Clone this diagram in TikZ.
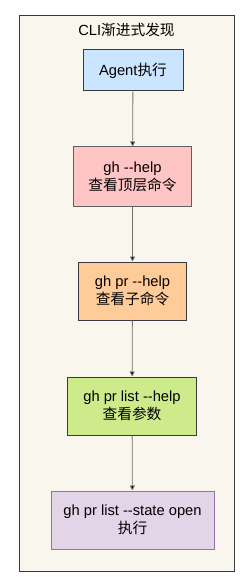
\documentclass[tikz,border=0pt]{standalone}
\usepackage{fontspec}
\setmainfont{Liberation Sans}[Ligatures=TeXOff]
\newfontfamily\cjk{Noto Sans CJK SC}
\usetikzlibrary{arrows.meta}
\definecolor{framefill}{HTML}{F9F7ED}
\definecolor{framedraw}{HTML}{36393D}
\definecolor{bluefill}{HTML}{CCE5FF}
\definecolor{pinkfill}{HTML}{FFC4C4}
\definecolor{orangefill}{HTML}{FFCC99}
\definecolor{greenfill}{HTML}{CDEB8B}
\definecolor{purplefill}{HTML}{E1D5E7}
\definecolor{purpledraw}{HTML}{9673A6}
\definecolor{edgecol}{HTML}{707070}
\tikzset{
  stepbox/.style={draw=framedraw, line width=1pt, align=center, font=\fontsize{14.7}{18}\selectfont, inner sep=0pt},
  flow/.style={draw=edgecol, line width=0.8pt, -{Triangle[length=5pt,width=5pt,fill=black]}}
}
\begin{document}
\begin{tikzpicture}[x=1pt,y=-1pt]
\useasboundingbox (0,0) rectangle (250,585);
\node[draw=framedraw, fill=framefill, line width=1pt, minimum width=215pt, minimum height=556pt, inner sep=0pt, anchor=north west] (frame) at (19,15) {};
\node[font=\fontsize{14.7}{18}\selectfont] (title) at (126.5,30) {CLI{\cjk 渐进式发现}};
\node[stepbox, fill=bluefill, minimum width=100pt, minimum height=41pt] (a) at (133,70.5) {Agent{\cjk 执行}};
\node[stepbox, fill=pinkfill, draw=framedraw!80, minimum width=118pt, minimum height=59pt] (b) at (132.5,176.5) {gh --help\\{\cjk 查看顶层命令}};
\node[stepbox, fill=orangefill, minimum width=108pt, minimum height=58pt] (c) at (132.5,291) {gh pr --help\\{\cjk 查看子命令}};
\node[stepbox, fill=greenfill, minimum width=129pt, minimum height=58pt] (d) at (132,406) {gh pr list --help\\{\cjk 查看参数}};
\node[stepbox, fill=purplefill, draw=purpledraw, minimum width=163pt, minimum height=58pt] (e) at (132.5,520) {gh pr list --state open\\{\cjk 执行}};
\draw[flow] (a) -- (b);
\draw[flow] (b) -- (c);
\draw[flow] (c) -- (d);
\draw[flow] (d) -- (e);
\end{tikzpicture}
\end{document}
